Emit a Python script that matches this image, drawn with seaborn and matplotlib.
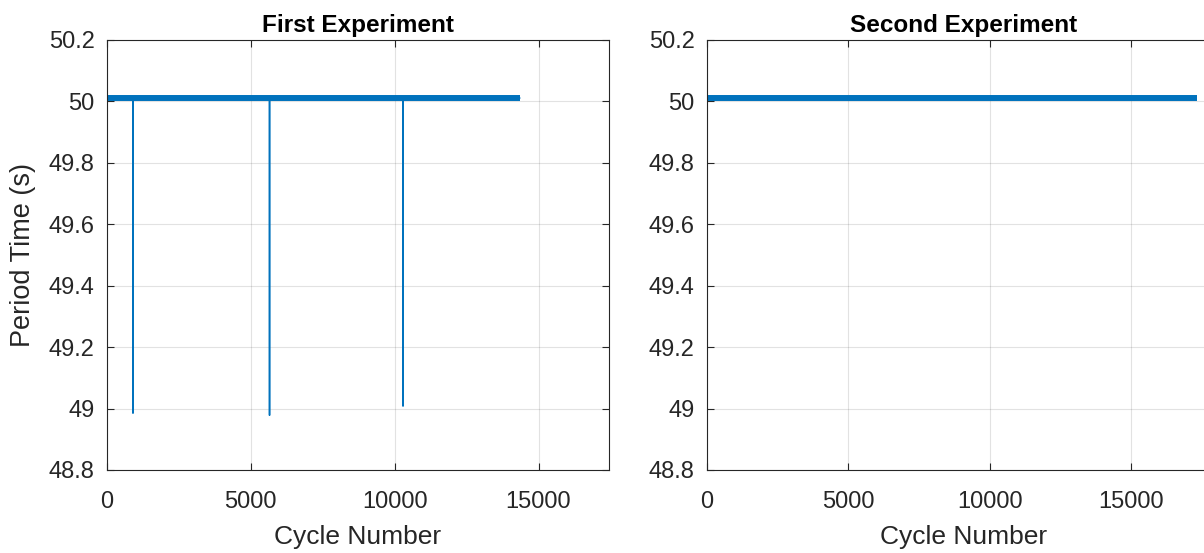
import numpy as np
import pandas as pd
import matplotlib
matplotlib.use("Agg")
import matplotlib.pyplot as plt
import seaborn as sns

# ---- data ----
baseline = 50.011
exp1_end = 14370
exp1_dip_cycles = [903, 5650, 10290]
exp1_dip_values = [48.985, 48.978, 49.008]
exp2_end = 17330

titles = ["First Experiment", "Second Experiment"]
yticks = [48.8, 49.0, 49.2, 49.4, 49.6, 49.8, 50.0, 50.2]
ytick_labels = ["48.8", "49", "49.2", "49.4", "49.6", "49.8", "50", "50.2"]
xticks = [0, 5000, 10000, 15000]

sns.set_theme(style="ticks")
plt.rcParams['font.family'] = ['Liberation Sans', 'DejaVu Sans']

blue = "#0072BD"
axcol = "#262626"

def build_series(end, dip_x, dip_y):
    xs, ys = [0], [baseline]
    for dx, dy in zip(dip_x, dip_y):
        xs += [dx - 1, dx, dx + 1]
        ys += [baseline, dy, baseline]
    xs.append(end)
    ys.append(baseline)
    return pd.DataFrame({"cycle": xs, "period": ys})

band1 = pd.DataFrame({"cycle": [0, exp1_end], "period": [baseline, baseline]})
band2 = pd.DataFrame({"cycle": [0, exp2_end], "period": [baseline, baseline]})
s1 = build_series(exp1_end, exp1_dip_cycles, exp1_dip_values)
s2 = build_series(exp2_end, [], [])

fig = plt.figure(figsize=(12.04, 5.53), dpi=100)
W, H = 1204, 553
ax1 = fig.add_axes([107 / W, 1 - 470 / H, 502 / W, 430 / H])
ax2 = fig.add_axes([707 / W, 1 - 470 / H, 513 / W, 430 / H])

for ax, band, s, title, xmax in [(ax1, band1, s1, titles[0], 17450),
                                  (ax2, band2, s2, titles[1], 18150)]:
    sns.lineplot(data=band, x="cycle", y="period", ax=ax, color=blue,
                 linewidth=4.3, sort=False, estimator=None,
                 solid_capstyle="butt")
    sns.lineplot(data=s, x="cycle", y="period", ax=ax, color=blue,
                 linewidth=1.1, sort=False, estimator=None,
                 solid_capstyle="butt")
    ax.set_xlim(0, xmax)
    ax.set_ylim(48.8, 50.2)
    ax.set_yticks(yticks)
    ax.set_yticklabels(ytick_labels)
    ax.set_xticks(xticks)
    ax.set_xticklabels([str(t) for t in xticks])
    ax.grid(True, color="#262626", alpha=0.13, linewidth=0.8)
    ax.set_axisbelow(True)
    ax.tick_params(direction="in", length=5, width=0.8, colors=axcol,
                   labelsize=17, top=True, right=True)
    ax.tick_params(axis="x", pad=15)
    ax.tick_params(axis="y", pad=9)
    for sp in ax.spines.values():
        sp.set_visible(True)
        sp.set_color(axcol)
        sp.set_linewidth(0.8)
    ax.set_title(title, fontsize=17.5, fontweight="bold", color="black", pad=6)
    ax.set_xlabel("Cycle Number", fontsize=19, color=axcol, labelpad=9)
    ax.set_ylabel("")

ax1.set_ylabel("Period Time (s)", fontsize=19.5, color=axcol, labelpad=9)

fig.savefig("out.png", dpi=100)
